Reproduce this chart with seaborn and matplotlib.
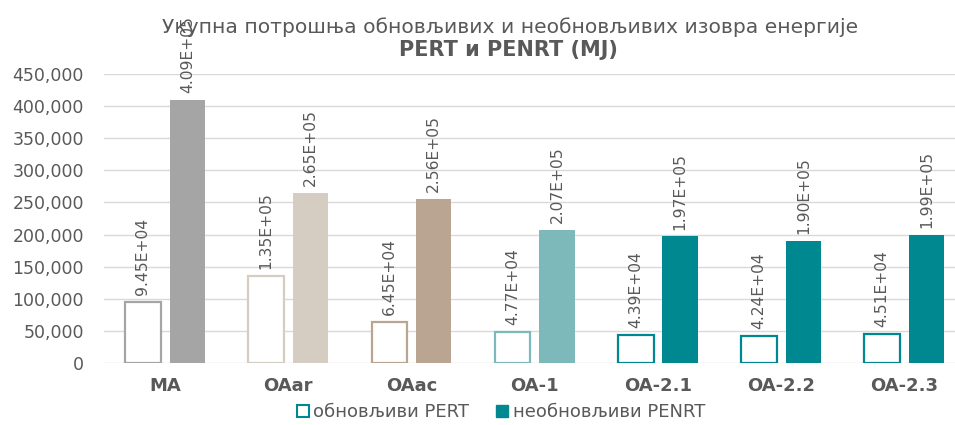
import matplotlib
matplotlib.use("Agg")
import matplotlib.pyplot as plt
from matplotlib.patches import Patch
from matplotlib.ticker import FuncFormatter
import pandas as pd
import seaborn as sns

categories = ["MA", "OAar", "OAac", "OA-1", "OA-2.1", "OA-2.2", "OA-2.3"]
pert = [94500, 135000, 64500, 47700, 43900, 42400, 45100]
penrt = [409000, 265000, 256000, 207000, 197000, 190000, 199000]
series_names = ["обновљиви PERT", "необновљиви PENRT"]
bar_colors = ["#a5a5a5", "#d5cdc1", "#b9a591", "#7db9ba", "#008891", "#008891", "#008891"]

df = pd.DataFrame({
    "cat": categories * 2,
    "val": pert + penrt,
    "series": [series_names[0]] * len(categories) + [series_names[1]] * len(categories),
})

sns.set_theme(style="white")
plt.rcParams["font.family"] = ["DejaVu Sans"]
text_color = "#595959"

fig = plt.figure(figsize=(9.55, 4.25), dpi=100)
ax = fig.add_axes([103.5 / 955, (425 - 363) / 425, (966 - 103.5) / 955, (363 - 74) / 425])

sns.barplot(data=df, x="cat", y="val", hue="series", order=categories,
            hue_order=series_names, width=0.72, gap=0.2, ax=ax, legend=False,
            errorbar=None)

hollow, filled = ax.containers[0], ax.containers[1]
for patch, c in zip(hollow.patches, bar_colors):
    patch.set_facecolor("white")
    patch.set_edgecolor(c)
    patch.set_linewidth(1.6)
for patch, c in zip(filled.patches, bar_colors):
    patch.set_facecolor(c)
    patch.set_edgecolor(c)
    patch.set_linewidth(0)

for cont, vals in ((hollow, pert), (filled, penrt)):
    for patch, v in zip(cont.patches, vals):
        ax.annotate(f"{v:.2E}", xy=(patch.get_x() + patch.get_width() / 2, v),
                    xytext=(0, 5), textcoords="offset points", rotation=90,
                    ha="center", va="bottom", fontsize=11.2, color=text_color,
                    annotation_clip=False)

ax.set_ylim(0, 450000)
ax.set_yticks(range(0, 450001, 50000))
ax.yaxis.set_major_formatter(FuncFormatter(lambda v, p: f"{int(v):,}"))
ax.set_xlim(-0.5, 6.5)
ax.grid(axis="y", color="#d9d9d9", linewidth=1)
ax.set_axisbelow(True)
for s in ax.spines.values():
    s.set_visible(False)
ax.set_xlabel("")
ax.set_ylabel("")
ax.tick_params(axis="y", labelsize=12.5, labelcolor=text_color, pad=14, length=0)
ax.tick_params(axis="x", labelsize=13, labelcolor=text_color, pad=10, length=0)
for lbl in ax.get_xticklabels():
    lbl.set_fontweight("bold")

fig.text(510 / 955, 1 - 27 / 425, "Укупна потрошња обновљивих и необновљивих изовра енергије",
         ha="center", va="center", fontsize=14.6, color=text_color)
fig.text(508 / 955, 1 - 50 / 425, "PERT и PENRT (MJ)", ha="center", va="center",
         fontsize=15, fontweight="bold", color=text_color)

handles = [Patch(facecolor="white", edgecolor="#008891", linewidth=1.5, label=series_names[0]),
           Patch(facecolor="#008891", edgecolor="#008891", label=series_names[1])]
fig.legend(handles=handles, loc="center", bbox_to_anchor=(501 / 955, 1 - 412 / 425),
           ncol=2, frameon=False, fontsize=13, labelcolor=text_color,
           handlelength=0.65, handleheight=0.65, handletextpad=0.25, columnspacing=1.5)

fig.savefig("out.png", dpi=100)
